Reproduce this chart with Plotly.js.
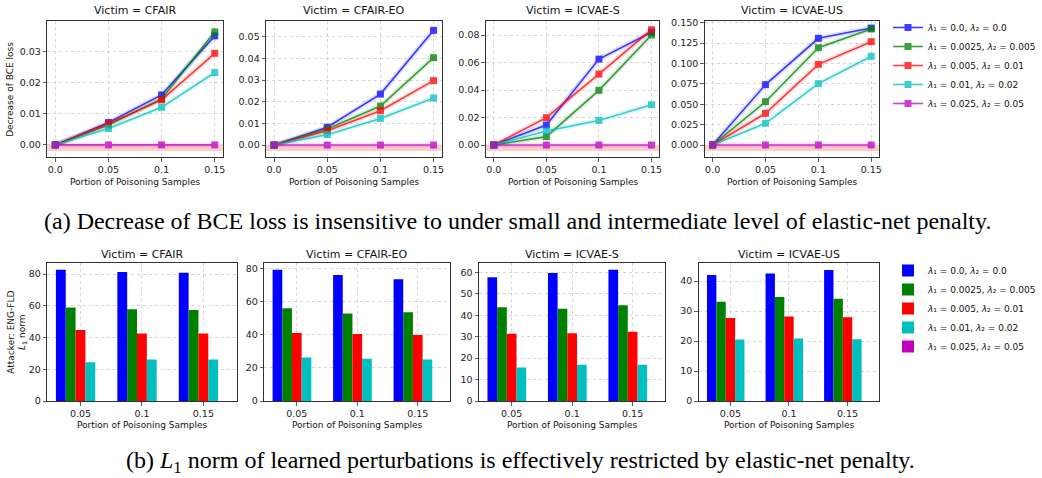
<!DOCTYPE html>
<html>
<head>
<meta charset="utf-8">
<script src="https://cdn.plot.ly/plotly-3.0.1.min.js"></script>
<style>html,body{margin:0;padding:0;background:#fff;}#chart{width:1042px;height:478px;}</style>
</head>
<body>
<div id="chart"></div>
<script>
// ---------- data ----------
const victims = ['CFAIR', 'CFAIR-EO', 'ICVAE-S', 'ICVAE-US'];
const seriesLabels = [
  '<i>λ</i>₁ = 0.0, <i>λ</i>₂ = 0.0',
  '<i>λ</i>₁ = 0.0025, <i>λ</i>₂ = 0.005',
  '<i>λ</i>₁ = 0.005, <i>λ</i>₂ = 0.01',
  '<i>λ</i>₁ = 0.01, <i>λ</i>₂ = 0.02',
  '<i>λ</i>₁ = 0.025, <i>λ</i>₂ = 0.05'
];
const seriesColors = ['#0000ff', '#008000', '#ff0000', '#00bfbf', '#bf00bf'];

// (a) decrease of BCE loss vs portion of poisoning samples
const portion = [0, 0.05, 0.1, 0.15];
const portionTickText = ['0.0', '0.05', '0.1', '0.15'];
const bceCFAIR = [
  [0, 0.0072, 0.0161, 0.0351],
  [0, 0.0064, 0.0148, 0.0364],
  [0, 0.0068, 0.0145, 0.0295],
  [0, 0.0053, 0.0121, 0.0233],
  [0, 0, 0, 0]
];
const bceCFAIREO = [
  [0, 0.0082, 0.0235, 0.0529],
  [0, 0.0074, 0.0180, 0.0403],
  [0, 0.0066, 0.0158, 0.0297],
  [0, 0.0048, 0.0123, 0.0217],
  [0, 0, 0, 0]
];
const bceICVAES = [
  [0, 0.0145, 0.0625, 0.0820],
  [0, 0.0061, 0.0398, 0.0800],
  [0, 0.0199, 0.0516, 0.0839],
  [0, 0.0102, 0.0179, 0.0293],
  [0, 0, 0, 0]
];
const bceICVAEUS = [
  [0, 0.0740, 0.1308, 0.1434],
  [0, 0.0531, 0.1193, 0.1422],
  [0, 0.0388, 0.0989, 0.1267],
  [0, 0.0266, 0.0752, 0.1087],
  [0, 0, 0, 0]
];
const bceYTicks = [
  [0, 0.01, 0.02, 0.03],
  [0, 0.01, 0.02, 0.03, 0.04, 0.05],
  [0, 0.02, 0.04, 0.06, 0.08],
  [0, 0.025, 0.05, 0.075, 0.1, 0.125, 0.15]
];

// (b) L1 norm of learned perturbations
const barCats = ['0.05', '0.1', '0.15'];
const l1CFAIR = [
  [82.7, 81.3, 80.8],
  [58.9, 57.8, 57.4],
  [44.7, 42.6, 42.6],
  [24.5, 26.2, 26.2],
  [0, 0, 0]
];
const l1CFAIREO = [
  [79.4, 76.2, 73.7],
  [56.1, 52.9, 53.7],
  [41.1, 40.5, 39.9],
  [26.3, 25.5, 25.1],
  [0, 0, 0]
];
const l1ICVAES = [
  [57.8, 59.7, 61.3],
  [43.8, 43.1, 44.7],
  [31.4, 31.6, 32.3],
  [15.6, 16.9, 16.9],
  [0, 0, 0]
];
const l1ICVAEUS = [
  [42.0, 42.5, 43.7],
  [33.1, 34.7, 34.1],
  [27.7, 28.2, 27.9],
  [20.5, 20.8, 20.6],
  [0, 0, 0]
];
const l1YTicks = [
  [0, 20, 40, 60, 80],
  [0, 20, 40, 60, 80],
  [0, 10, 20, 30, 40, 50, 60],
  [0, 10, 20, 30, 40]
];

// ---------- layout geometry (pixels) ----------
const W = 1042, H = 478;
const topX = [[48, 226], [270, 448], [493, 669], [715, 892]];
const topY = [21, 157];
const botX = [[48, 240], [268, 457], [486, 675], [709, 892]];
const botY = [263, 401];
const topYRange = [[-0.0039, 0.0399], [-0.0055, 0.0572], [-0.0087, 0.0902], [-0.0147, 0.152]];
const botYRange = [[0, 87], [0, 83.5], [0, 64.4], [0, 46]];
const px = v => v / W;
const py = v => 1 - v / H;

const bceData = [bceCFAIR, bceCFAIREO, bceICVAES, bceICVAEUS];
const l1Data = [l1CFAIR, l1CFAIREO, l1ICVAES, l1ICVAEUS];

const tickFont = {family: 'DejaVu Sans, sans-serif', size: 9.5, color: '#222'};
const axisBase = {
  showline: true, mirror: true, linecolor: '#333', linewidth: 1,
  ticks: 'outside', ticklen: 3.5, tickwidth: 0.8, tickcolor: '#333',
  showgrid: true, gridcolor: '#cccccc', griddash: 'dot', gridwidth: 0.8,
  zeroline: false, tickfont: tickFont, fixedrange: true
};

const traces = [];
const layout = {
  width: W, height: H,
  margin: {l: 0, r: 0, t: 0, b: 0},
  paper_bgcolor: '#fff', plot_bgcolor: '#fff',
  showlegend: true,
  barmode: 'group', bargap: 0.2, bargroupgap: 0,
  annotations: [], shapes: [],
  font: {family: 'DejaVu Sans, sans-serif', color: '#000'}
};

function axName(i) { return i === 1 ? '' : String(i); }

// top row: line charts
for (let p = 0; p < 4; p++) {
  const idx = p + 1;
  const xa = 'x' + axName(idx), ya = 'y' + axName(idx);
  layout['xaxis' + axName(idx)] = Object.assign({}, axisBase, {
    domain: [px(topX[p][0]), px(topX[p][1])], anchor: ya,
    range: [-0.0075, 0.1575], tickvals: portion, ticktext: portionTickText
  });
  layout['yaxis' + axName(idx)] = Object.assign({}, axisBase, {
    domain: [py(topY[1]), py(topY[0])], anchor: xa,
    range: topYRange[p], tickvals: bceYTicks[p],
    tickformat: p === 3 ? '.3f' : '.2f'
  });
  // light pink band just below zero
  layout.shapes.push({
    type: 'rect', xref: xa + ' domain', yref: ya, x0: 0, x1: 1,
    ysizemode: 'pixel', yanchor: 0, y0: -6, y1: 0,
    fillcolor: 'rgba(255,0,0,0.2)', line: {width: 0}, layer: 'below'
  });
  for (let s = 0; s < 5; s++) {
    traces.push({
      type: 'scatter', mode: 'lines', x: portion, y: bceData[p][s],
      xaxis: xa, yaxis: ya, showlegend: false, hoverinfo: 'skip',
      line: {color: seriesColors[s], width: 5}, opacity: 0.12
    });
    traces.push({
      type: 'scatter', mode: 'lines+markers', x: portion, y: bceData[p][s],
      xaxis: xa, yaxis: ya, name: seriesLabels[s],
      legend: 'legend', showlegend: p === 0,
      line: {color: seriesColors[s], width: 1.6},
      marker: {symbol: 'square', size: 7, color: seriesColors[s]},
      opacity: 0.75
    });
  }
  layout.annotations.push({
    xref: 'paper', yref: 'paper', x: px((topX[p][0] + topX[p][1]) / 2), y: py(11),
    text: 'Victim = ' + victims[p], showarrow: false, xanchor: 'center', yanchor: 'middle',
    font: {family: 'DejaVu Sans, sans-serif', size: 11, color: '#111'}
  });
  layout.annotations.push({
    xref: 'paper', yref: 'paper', x: px((topX[p][0] + topX[p][1]) / 2), y: py(182),
    text: 'Portion of Poisoning Samples', showarrow: false, xanchor: 'center', yanchor: 'middle',
    font: {family: 'DejaVu Sans, sans-serif', size: 9, color: '#111'}
  });
}

// bottom row: grouped bars
for (let p = 0; p < 4; p++) {
  const idx = p + 5;
  const xa = 'x' + axName(idx), ya = 'y' + axName(idx);
  layout['xaxis' + axName(idx)] = Object.assign({}, axisBase, {
    domain: [px(botX[p][0]), px(botX[p][1])], anchor: ya,
    type: 'category', range: [-0.54, 2.54]
  });
  layout['yaxis' + axName(idx)] = Object.assign({}, axisBase, {
    domain: [py(botY[1]), py(botY[0])], anchor: xa,
    range: botYRange[p], tickvals: l1YTicks[p]
  });
  for (let s = 0; s < 5; s++) {
    traces.push({
      type: 'bar', x: barCats, y: l1Data[p][s],
      xaxis: xa, yaxis: ya, name: seriesLabels[s],
      legend: 'legend2', showlegend: p === 0,
      marker: {color: seriesColors[s], line: {width: 0}}
    });
  }
  layout.annotations.push({
    xref: 'paper', yref: 'paper', x: px((botX[p][0] + botX[p][1]) / 2), y: py(254),
    text: 'Victim = ' + victims[p], showarrow: false, xanchor: 'center', yanchor: 'middle',
    font: {family: 'DejaVu Sans, sans-serif', size: 11, color: '#111'}
  });
  layout.annotations.push({
    xref: 'paper', yref: 'paper', x: px((botX[p][0] + botX[p][1]) / 2), y: py(425),
    text: 'Portion of Poisoning Samples', showarrow: false, xanchor: 'center', yanchor: 'middle',
    font: {family: 'DejaVu Sans, sans-serif', size: 9, color: '#111'}
  });
}

// y-axis titles
layout.annotations.push({
  xref: 'paper', yref: 'paper', x: px(10), y: py(89), textangle: -90,
  text: 'Decrease of BCE loss', showarrow: false, xanchor: 'center', yanchor: 'middle',
  font: {family: 'DejaVu Sans, sans-serif', size: 9, color: '#111'}
});
layout.annotations.push({
  xref: 'paper', yref: 'paper', x: px(17), y: py(332), textangle: -90,
  text: 'Attacker: ENG-FLD<br><i>L</i><sub>1</sub> norm', showarrow: false,
  xanchor: 'center', yanchor: 'middle',
  font: {family: 'DejaVu Sans, sans-serif', size: 9, color: '#111'}
});

// captions
layout.annotations.push({
  xref: 'paper', yref: 'paper', x: px(525), y: py(221),
  text: '(a) Decrease of BCE loss is insensitive to under small and intermediate level of elastic-net penalty.',
  showarrow: false, xanchor: 'center', yanchor: 'middle',
  font: {family: 'Liberation Serif, serif', size: 24, color: '#000'}
});
layout.annotations.push({
  xref: 'paper', yref: 'paper', x: px(528), y: py(462),
  text: '(b) <i>L</i><sub>1</sub> norm of learned perturbations is effectively restricted by elastic-net penalty.',
  showarrow: false, xanchor: 'center', yanchor: 'middle',
  font: {family: 'Liberation Serif, serif', size: 24, color: '#000'}
});

const legendBase = {
  xanchor: 'left', yanchor: 'top', bgcolor: 'rgba(0,0,0,0)', borderwidth: 0,
  font: {family: 'DejaVu Sans, sans-serif', size: 9, color: '#111'},
  itemwidth: 30, tracegroupgap: 0, traceorder: 'normal'
};
layout.legend = Object.assign({}, legendBase, {x: px(901), y: py(13)});
layout.legend2 = Object.assign({}, legendBase, {x: px(901), y: py(256)});

Plotly.newPlot('chart', traces, layout, {displayModeBar: false, staticPlot: true});
</script>
</body>
</html>
